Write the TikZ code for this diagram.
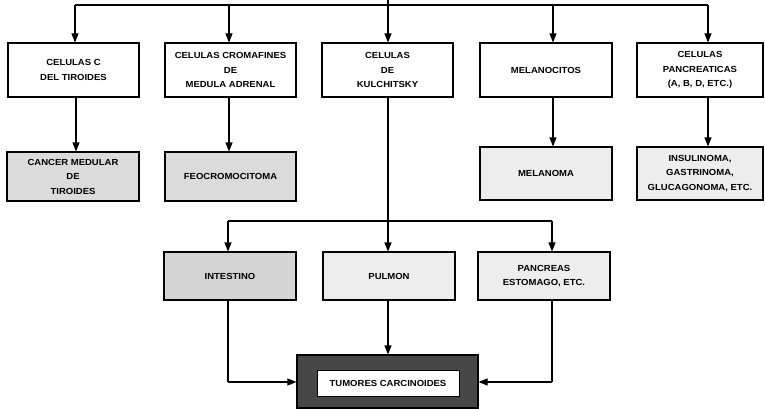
\documentclass[tikz,border=0pt]{standalone}
\usepackage{fontspec}
\newfontfamily\boxfont[FakeStretch=1.08]{Liberation Sans}
\usetikzlibrary{arrows.meta,calc}
\begin{document}
\begin{tikzpicture}[x=1pt,y=-1pt,
  every node/.style={font=\boxfont\bfseries\fontsize{8.8}{14.5}\selectfont,align=center,inner sep=0pt},
  box/.style={draw=black,line width=1.1pt,fill=white,minimum width=131pt,minimum height=54pt},
  shadeA/.style={box,fill=black!14},
  shadeB/.style={box,fill=black!7},
  conn/.style={line width=1.1pt},
  arr/.style={conn,-{Triangle[length=9pt,width=7pt]}}]
\useasboundingbox (0,0) rectangle (765,409);
% row 1
\node[box] (b1) at (73.5,70) {CELULAS C\\DEL TIROIDES};
\node[box] (b2) at (230.5,70) {CELULAS CROMAFINES\\DE\\MEDULA ADRENAL};
\node[box] (b3) at (387.5,70) {CELULAS\\DE\\KULCHITSKY};
\node[box,minimum width=132pt] (b4) at (546,70) {MELANOCITOS};
\node[box,minimum width=126pt] (b5) at (700,70) {CELULAS\\PANCREATICAS\\(A, B, D, ETC.)};
% row 2
\node[shadeA,minimum width=132pt,minimum height=49pt] (c1) at (73,176.5) {CANCER MEDULAR\\DE\\TIROIDES};
\node[shadeA,minimum height=49pt] (c2) at (230.5,176.5) {FEOCROMOCITOMA};
\node[shadeB,minimum width=132pt,minimum height=53pt] (c4) at (546,173.5) {MELANOMA};
\node[shadeB,minimum width=126pt,minimum height=53pt] (c5) at (700,173.5) {INSULINOMA,\\GASTRINOMA,\\GLUCAGONOMA, ETC.};
% row 3
\node[shadeA,fill=black!17,minimum width=132pt,minimum height=48pt] (d1) at (230,276) {INTESTINO};
\node[shadeB,minimum width=132pt,minimum height=48pt] (d2) at (389,276) {PULMON};
\node[shadeB,minimum width=132pt,minimum height=48pt] (d3) at (544,276) {PANCREAS\\ESTOMAGO, ETC.};
% tumour box
\node[draw=black,line width=1.1pt,fill=black!72,minimum width=181pt,minimum height=53pt] (t) at (387.5,381.5) {};
\node[draw=black,line width=0.8pt,fill=white,minimum width=142pt,minimum height=26pt] (ti) at (388,383) {TUMORES CARCINOIDES};
% top distribution
\coordinate (tl) at (75,5);
\coordinate (t2) at (229,5);
\coordinate (t4) at (553,5);
\coordinate (tr) at (708,5);
\coordinate (top) at (388,0);
\draw[conn] (tl) -- (tr);
\draw[arr] (tl) -- (tl |- b1.north);
\draw[arr] (t2) -- (t2 |- b2.north);
\draw[arr] (top) -- (top |- b3.north);
\draw[arr] (t4) -- (t4 |- b4.north);
\draw[arr] (tr) -- (tr |- b5.north);
% row1 -> row2
\coordinate (s1) at (76,97);
\coordinate (s2) at (229,97);
\coordinate (s4) at (553,97);
\coordinate (s5) at (708,97);
\draw[arr] (s1) -- (s1 |- c1.north);
\draw[arr] (s2) -- (s2 |- c2.north);
\draw[arr] (s4) -- (s4 |- c4.north);
\draw[arr] (s5) -- (s5 |- c5.north);
% kulchitsky split
\coordinate (ks) at (388,221);
\coordinate (kl) at (228,221);
\coordinate (kr) at (552,221);
\draw[conn] (b3.south -| ks) -- (ks);
\draw[conn] (kl) -- (kr);
\draw[arr] (kl) -- (kl |- d1.north);
\draw[arr] (ks) -- (ks |- d2.north);
\draw[arr] (kr) -- (kr |- d3.north);
% to tumours
\coordinate (bl) at (228,382);
\coordinate (bc) at (388,300);
\coordinate (br) at (552,382);
\draw[conn] (d1.south -| bl) -- (bl);
\draw[arr] (bl) -- (t.west |- bl);
\draw[arr] (bc) -- (bc |- t.north);
\draw[conn] (d3.south -| br) -- (br);
\draw[arr] (br) -- (t.east |- br);
\end{tikzpicture}
\end{document}
